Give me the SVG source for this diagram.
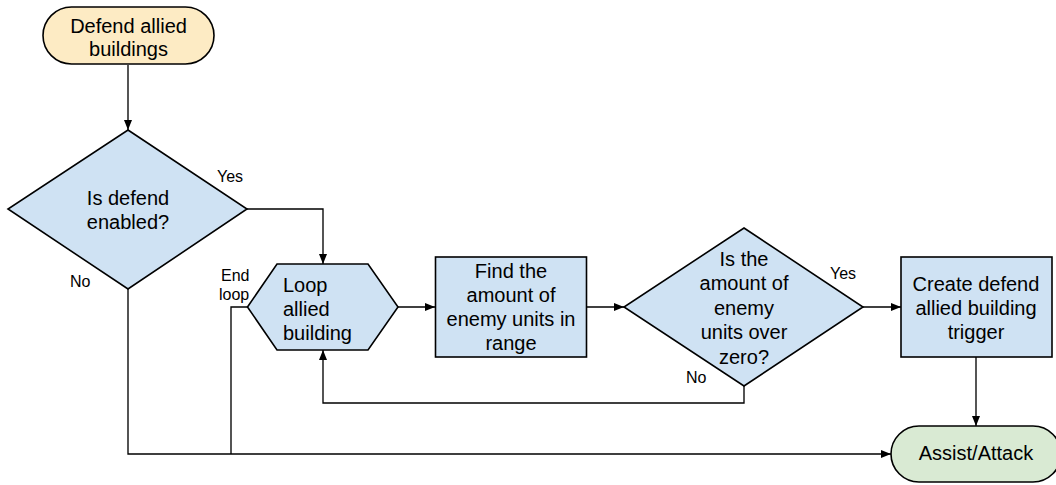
<svg xmlns="http://www.w3.org/2000/svg" width="1056" height="485" viewBox="0 0 1056 485">
<defs>
<marker id="arr" markerUnits="userSpaceOnUse" markerWidth="10" markerHeight="8" refX="10" refY="4" orient="auto">
<path d="M0,0 L10,4 L0,8 z" fill="#000"/>
</marker>
<style>
.n{stroke:#000;stroke-width:1.6}
.y{fill:#fdebc4}.b{fill:#cfe2f3}.g{fill:#d9ead3}
.t{font-family:"Liberation Sans",Arial,sans-serif;font-size:20px;fill:#000;text-anchor:middle}
.l{font-family:"Liberation Sans",Arial,sans-serif;font-size:16px;fill:#000}
.c{fill:none;stroke:#000;stroke-width:1.33;marker-end:url(#arr)}
.c2{fill:none;stroke:#000;stroke-width:1.33}
</style>
</defs>
<rect width="1056" height="485" fill="#fff"/>
<g id="connectors">
<path class="c" d="M128,65 V130"/>
<path class="c" d="M247,209 H323 V264"/>
<path class="c" d="M398,307 H435"/>
<path class="c" d="M587,307 H624"/>
<path class="c" d="M863,307 H901"/>
<path class="c" d="M976,357 V426"/>
<path class="c" d="M744,386 V403 H323 V350"/>
<path class="c" d="M128,289 V454 H891"/>
<path class="c2" d="M247,307 H231 V454"/>
<text class="l" x="217" y="182">Yes</text>
<text class="l" x="70" y="287">No</text>
<text class="l" x="221" y="281">End</text>
<text class="l" x="219" y="300">loop</text>
<text class="l" x="830" y="279">Yes</text>
<text class="l" x="686" y="383">No</text>
</g>
<g id="start">
<rect class="n y" x="43" y="7" width="171" height="57" rx="28.5"/>
<text class="t" x="128.5" y="33">Defend allied</text>
<text class="t" x="128.5" y="56">buildings</text>
</g>
<g id="defendEnabled">
<polygon class="n b" points="128,130 247,209 128,289 8,209"/>
<text class="t" x="128" y="205">Is defend</text>
<text class="t" x="128" y="229">enabled?</text>
</g>
<g id="loop">
<polygon class="n b" points="247.5,307 277,264 368,264 398,307 368,350 277,350"/>
<text class="t" x="283" y="292" text-anchor="start" style="text-anchor:start">Loop</text>
<text class="t" x="283" y="316" style="text-anchor:start">allied</text>
<text class="t" x="283" y="340" style="text-anchor:start">building</text>
</g>
<g id="findEnemies">
<rect class="n b" x="435.5" y="257" width="151" height="100"/>
<text class="t" x="511" y="278">Find the</text>
<text class="t" x="511" y="302">amount of</text>
<text class="t" x="511" y="326">enemy units in</text>
<text class="t" x="511" y="350">range</text>
</g>
<g id="overZero">
<polygon class="n b" points="744,228 863,307 744,386 624,307"/>
<text class="t" x="744" y="266">Is the</text>
<text class="t" x="744" y="290">amount of</text>
<text class="t" x="744" y="315">enemy</text>
<text class="t" x="744" y="339">units over</text>
<text class="t" x="744" y="364">zero?</text>
</g>
<g id="createTrigger">
<rect class="n b" x="901" y="257" width="151" height="100"/>
<text class="t" x="976" y="291">Create defend</text>
<text class="t" x="976" y="315">allied building</text>
<text class="t" x="976" y="339">trigger</text>
</g>
<g id="assistAttack">
<rect class="n g" x="891" y="426" width="170" height="56" rx="28"/>
<text class="t" x="976" y="460">Assist/Attack</text>
</g>
</svg>
